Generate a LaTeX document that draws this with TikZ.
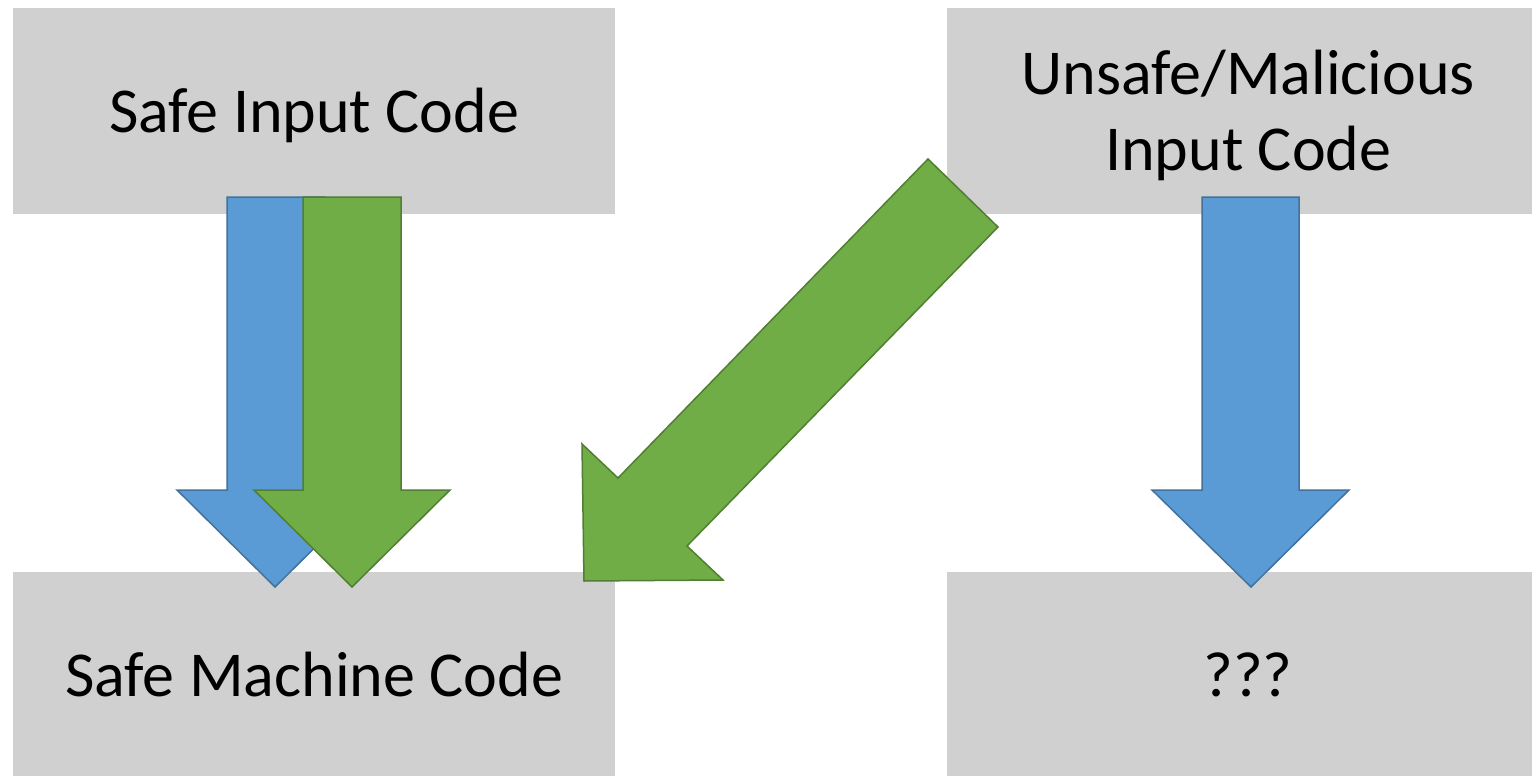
\documentclass[tikz,border=0pt]{standalone}
\usepackage{fontspec}
\setmainfont{Carlito}
\definecolor{boxgray}{HTML}{D0D0D0}
\definecolor{bluefill}{HTML}{5B9BD5}
\definecolor{blueline}{HTML}{41719C}
\definecolor{greenfill}{HTML}{70AD47}
\definecolor{greenline}{HTML}{507E32}
\tikzset{
  codebox/.style={fill=boxgray, draw=none, anchor=north west,
    minimum width=602pt, minimum height=206pt, inner sep=0pt,
    align=center, font=\fontsize{64}{76}\selectfont,
    text height=52pt, text depth=10pt},
  twoline/.style={text height=128pt},
  bluearrow/.style={fill=bluefill, draw=blueline, line width=1.5pt, line join=miter},
  greenarrow/.style={fill=greenfill, draw=greenline, line width=1.5pt, line join=miter}
}
\begin{document}
\begin{tikzpicture}[x=1pt, y=-1pt]
\useasboundingbox (0,0) rectangle (1532,776);
\fill[white] (0,0) rectangle (1532,776);
\begin{scope}
\clip (0,0) rectangle (1532,776);
% the four code boxes
\node[codebox] (safein)  at (13,8)   {Safe Input Code};
\node[codebox, twoline] (unsafe) at (947,8) {Unsafe/Malicious\\Input Code};
\node[codebox] (safemc)  at (13,572) {Safe Machine Code};
\node[codebox] (unknown) at (947,572) {???};
\end{scope}
% block arrows
\draw[bluearrow] (227,197) -- (325,197) -- (325,490) -- (373,490) -- (275,587)
  -- (177,490) -- (227,490) -- cycle;
\draw[greenarrow] (303,197) -- (401,197) -- (401,490) -- (450,490) -- (352,587)
  -- (254,490) -- (303,490) -- cycle;
\draw[greenarrow] (928,159) -- (998,227) -- (687,546) -- (723,580) -- (584,581)
  -- (582,444) -- (618,478) -- cycle;
\draw[bluearrow] (1202,197) -- (1299,197) -- (1299,490) -- (1349,490) -- (1251,587)
  -- (1152,490) -- (1202,490) -- cycle;
\end{tikzpicture}
\end{document}
